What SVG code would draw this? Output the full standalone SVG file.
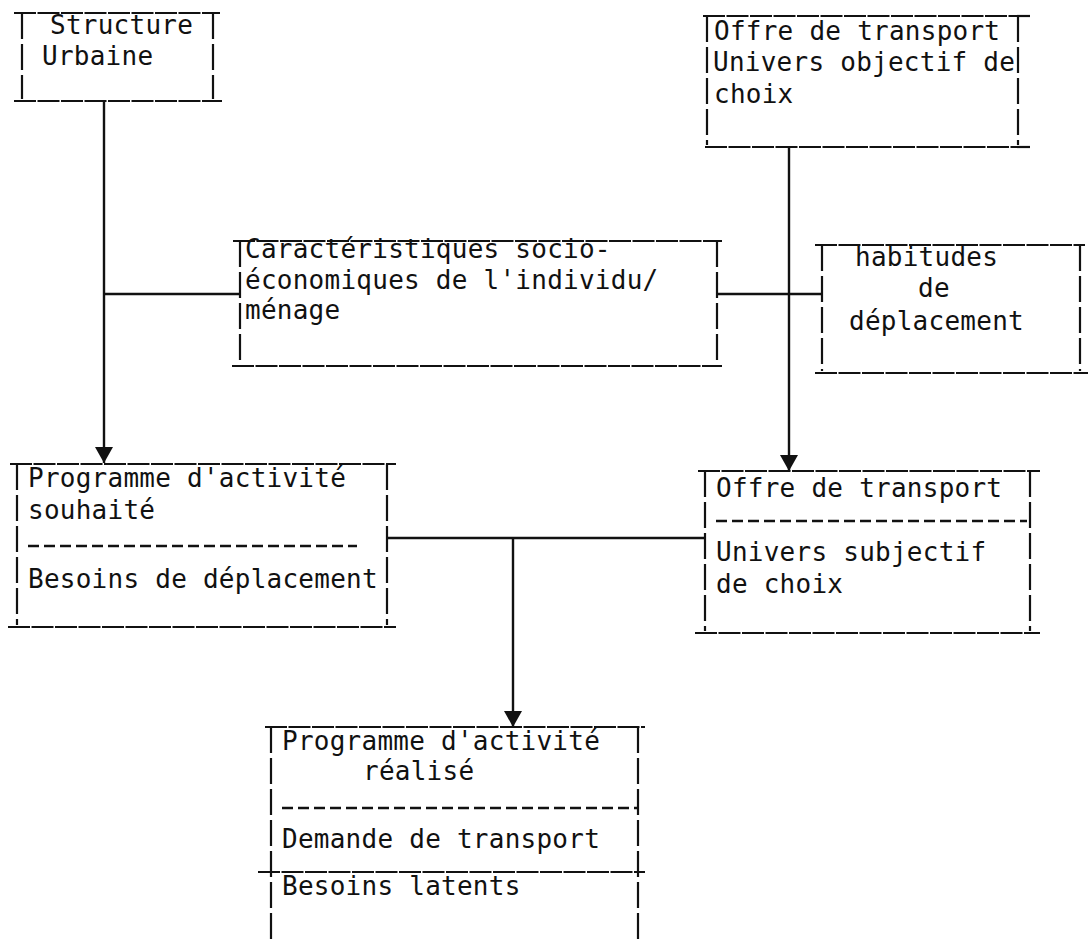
<svg xmlns="http://www.w3.org/2000/svg" width="1092" height="946" viewBox="0 0 1092 946">
<style>
text{font-family:"DejaVu Sans Mono","Liberation Mono",monospace;font-size:26px;letter-spacing:0.25px;fill:#111}
.hl{stroke:#111;stroke-width:2.2;stroke-dasharray:22 1.5;fill:none}
.vl{stroke:#111;stroke-width:2.2;stroke-dasharray:26 5;fill:none}
.dl{stroke:#111;stroke-width:2.4;stroke-dasharray:11 5;fill:none}
.cn{stroke:#111;stroke-width:2.4;fill:none}
</style>
<defs>
<marker id="arr" markerUnits="userSpaceOnUse" markerWidth="16" markerHeight="18" refX="16" refY="9" orient="auto">
<path d="M0,0 L16,9 L0,18 z" fill="#111"/>
</marker>
</defs>
<rect width="1092" height="946" fill="#fff"/>

<g id="connectors">
<line class="cn" x1="104" y1="101" x2="104" y2="463" marker-end="url(#arr)"/>
<line class="cn" x1="104" y1="294" x2="240" y2="294"/>
<line class="cn" x1="789" y1="147" x2="789" y2="471" marker-end="url(#arr)"/>
<line class="cn" x1="717" y1="294" x2="822" y2="294"/>
<line class="cn" x1="387" y1="538" x2="705" y2="538"/>
<line class="cn" x1="513" y1="538" x2="513" y2="727" marker-end="url(#arr)"/>
</g>

<g id="structure-urbaine">
<line class="hl" x1="14" y1="13" x2="220" y2="13"/>
<line class="vl" x1="22" y1="13" x2="22" y2="99"/>
<line class="vl" x1="213" y1="13" x2="213" y2="99"/>
<line class="hl" x1="14" y1="101" x2="222" y2="101"/>
<text x="50" y="34">Structure</text>
<text x="42" y="65">Urbaine</text>
</g>

<g id="offre-objectif">
<line class="hl" x1="703" y1="16" x2="1030" y2="16"/>
<line class="vl" x1="707" y1="16" x2="707" y2="145"/>
<line class="vl" x1="1018" y1="16" x2="1018" y2="145"/>
<line class="hl" x1="705" y1="147" x2="1030" y2="147"/>
<text x="714" y="40">Offre de transport</text>
<text x="713" y="71" letter-spacing="0">Univers objectif de</text>
<text x="714" y="103">choix</text>
</g>

<g id="caracteristiques">
<line class="hl" x1="233" y1="241" x2="722" y2="241"/>
<line class="vl" x1="240" y1="241" x2="240" y2="364"/>
<line class="vl" x1="717" y1="241" x2="717" y2="364"/>
<line class="hl" x1="232" y1="366" x2="722" y2="366"/>
<text x="245" y="258">Caractéristiques socio-</text>
<text x="245" y="289">économiques de l'individu/</text>
<text x="245" y="319">ménage</text>
</g>

<g id="habitudes">
<line class="hl" x1="815" y1="245" x2="1085" y2="245"/>
<line class="vl" x1="822" y1="245" x2="822" y2="371"/>
<line class="vl" x1="1080" y1="245" x2="1080" y2="371"/>
<line class="hl" x1="815" y1="373" x2="1088" y2="373"/>
<text x="855" y="266">habitudes</text>
<text x="918" y="297">de</text>
<text x="849" y="330">déplacement</text>
</g>

<g id="programme-souhaite">
<line class="hl" x1="10" y1="464" x2="396" y2="464"/>
<line class="vl" x1="17" y1="464" x2="17" y2="625"/>
<line class="vl" x1="387" y1="464" x2="387" y2="625"/>
<line class="hl" x1="8" y1="627" x2="396" y2="627"/>
<text x="28" y="487">Programme d'activité</text>
<text x="28" y="519">souhaité</text>
<line class="dl" x1="28" y1="546" x2="357" y2="546"/>
<text x="28" y="588">Besoins de déplacement</text>
</g>

<g id="offre-subjectif">
<line class="hl" x1="698" y1="471" x2="1040" y2="471"/>
<line class="vl" x1="705" y1="471" x2="705" y2="631"/>
<line class="vl" x1="1030" y1="471" x2="1030" y2="631"/>
<line class="hl" x1="695" y1="633" x2="1040" y2="633"/>
<text x="716" y="497">Offre de transport</text>
<line class="dl" x1="716" y1="521" x2="1027" y2="521"/>
<text x="716" y="561">Univers subjectif</text>
<text x="716" y="593">de choix</text>
</g>

<g id="programme-realise">
<line class="hl" x1="265" y1="727" x2="645" y2="727"/>
<line class="vl" x1="271" y1="727" x2="271" y2="942"/>
<line class="vl" x1="638" y1="727" x2="638" y2="942"/>
<text x="282" y="750">Programme d'activité</text>
<text x="363" y="780">réalisé</text>
<line class="dl" x1="282" y1="808" x2="637" y2="808"/>
<text x="282" y="848">Demande de transport</text>
<line class="hl" x1="258" y1="872" x2="645" y2="872"/>
<text x="282" y="895">Besoins latents</text>
</g>
</svg>
